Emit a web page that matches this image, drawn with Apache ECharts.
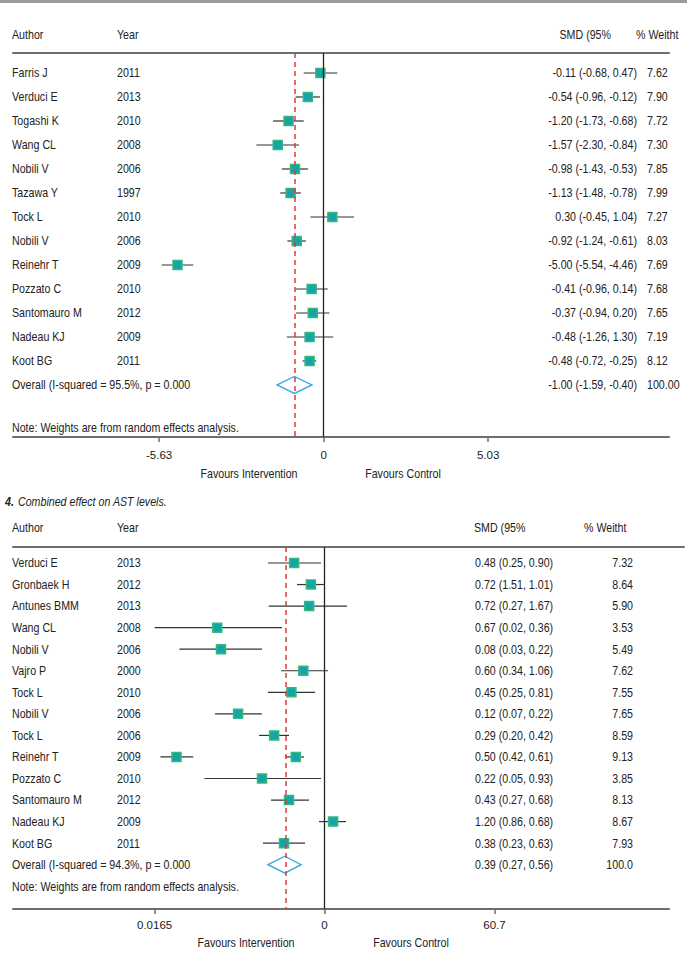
<!DOCTYPE html>
<html>
<head>
<meta charset="utf-8">
<title>forest plots</title>
<script src="https://cdn.jsdelivr.net/npm/echarts@6/dist/echarts.min.js"></script>
<style>
  html, body { margin: 0; padding: 0; background: #fff; }
  #main { width: 687px; height: 953px; }
</style>
</head>
<body>
<div id="main"></div>
<script>
// ---- plot 1 : SMD, linear scale ----
var authors1 = ['Farris J', 'Verduci E', 'Togashi K', 'Wang CL', 'Nobili V', 'Tazawa Y', 'Tock L',
  'Nobili V', 'Reinehr T', 'Pozzato C', 'Santomauro M', 'Nadeau KJ', 'Koot BG'];
var years1 = ['2011', '2013', '2010', '2008', '2006', '1997', '2010', '2006', '2009', '2010', '2012', '2009', '2011'];
var est1 = [-0.11, -0.54, -1.20, -1.57, -0.98, -1.13, 0.30, -0.92, -5.00, -0.41, -0.37, -0.48, -0.48];
var lo1 = [-0.68, -0.96, -1.73, -2.30, -1.43, -1.48, -0.45, -1.24, -5.54, -0.96, -0.94, -1.26, -0.72];
var hi1 = [0.47, -0.12, -0.68, -0.84, -0.53, -0.78, 1.04, -0.61, -4.46, 0.14, 0.20, 0.33, -0.25];
var ciText1 = ['-0.11 (-0.68, 0.47)', '-0.54 (-0.96, -0.12)', '-1.20 (-1.73, -0.68)', '-1.57 (-2.30, -0.84)',
  '-0.98 (-1.43, -0.53)', '-1.13 (-1.48, -0.78)', '0.30 (-0.45, 1.04)', '-0.92 (-1.24, -0.61)',
  '-5.00 (-5.54, -4.46)', '-0.41 (-0.96, 0.14)', '-0.37 (-0.94, 0.20)', '-0.48 (-1.26, 1.30)', '-0.48 (-0.72, -0.25)'];
var weights1 = ['7.62', '7.90', '7.72', '7.30', '7.85', '7.99', '7.27', '8.03', '7.69', '7.68', '7.65', '7.19', '8.12'];
var overall1 = [-1.00, -1.59, -0.40];
var overallText1 = ['Overall (I-squared = 95.5%, p = 0.000', '-1.00 (-1.59, -0.40)', '100.00'];
var ticks1 = [-5.63, 0, 5.63];
var tickLabels1 = ['-5.63', '0', '5.03'];

// ---- plot 2 : ratio, log scale ----
var authors2 = ['Verduci E', 'Gronbaek H', 'Antunes BMM', 'Wang CL', 'Nobili V', 'Vajro P', 'Tock L',
  'Nobili V', 'Tock L', 'Reinehr T', 'Pozzato C', 'Santomauro M', 'Nadeau KJ', 'Koot BG'];
var years2 = ['2013', '2012', '2013', '2008', '2006', '2000', '2010', '2006', '2006', '2009', '2010', '2012', '2009', '2011'];
var est2 = [0.48, 0.72, 0.69, 0.075, 0.082, 0.60, 0.45, 0.124, 0.296, 0.50, 0.221, 0.424, 1.23, 0.376];
var lo2 = [0.255, 0.515, 0.26, 0.0165, 0.030, 0.35, 0.255, 0.071, 0.206, 0.385, 0.055, 0.275, 0.875, 0.226];
var hi2 = [0.918, 0.984, 1.72, 0.358, 0.221, 1.09, 0.795, 0.22, 0.424, 0.61, 0.92, 0.688, 1.68, 0.625];
var ciText2 = ['0.48 (0.25, 0.90)', '0.72 (1.51, 1.01)', '0.72 (0.27, 1.67)', '0.67 (0.02, 0.36)',
  '0.08 (0.03, 0.22)', '0.60 (0.34, 1.06)', '0.45 (0.25, 0.81)', '0.12 (0.07, 0.22)', '0.29 (0.20, 0.42)',
  '0.50 (0.42, 0.61)', '0.22 (0.05, 0.93)', '0.43 (0.27, 0.68)', '1.20 (0.86, 0.68)', '0.38 (0.23, 0.63)'];
var weights2 = ['7.32', '8.64', '5.90', '3.53', '5.49', '7.62', '7.55', '7.65', '8.59', '9.13', '3.85', '8.13', '8.67', '7.93'];
// second box drawn on the Reinehr T row
var extraRow2 = 9;
var extra2 = [0.028, 0.019, 0.042];
var overall2 = [0.385, 0.255, 0.567];
var overallText2 = ['Overall (I-squared = 94.3%, p = 0.000', '0.39 (0.27, 0.56)', '100.0'];
var ticks2 = [0.0165, 1, 60.7];
var tickLabels2 = ['0.0165', '0', '60.7'];

// no narrow face installed: regular face squeezed horizontally
var FAMILY = '"Liberation Sans", Arial, sans-serif';
var FONT = '13px ' + FAMILY;
var SQUEEZE = 0.82;
var TXT = '#222';
var BOX_FILL = '#16a3aa';
var BOX_EDGE = '#35b97a';

var chart = echarts.init(document.getElementById('main'), null, { renderer: 'svg' });

function txt(x, y, s, align, font) {
  return {
    type: 'text', x: x, y: y, scaleX: SQUEEZE, silent: true,
    style: { text: s, fill: TXT, font: font || FONT, align: align || 'left', verticalAlign: 'middle',
      textAlign: align || 'left', textVerticalAlign: 'middle' }
  };
}

function pickLabel(ticks, labels) {
  return function (v) {
    for (var i = 0; i < ticks.length; i++) {
      if (Math.abs(ticks[i] - v) < 1e-6) return labels[i];
    }
    return '';
  };
}

// cols: [year x, ci x, ci align, weight x, weight align]
function studyRender(authors, years, ciText, weights, cols) {
  return function (params, api) {
    var row = api.value(3);
    var k = api.value(4);
    var a = api.coord([api.value(1), row]);
    var b = api.coord([api.value(2), row]);
    var c = api.coord([api.value(0), row]);
    var kids = [
      { type: 'line', shape: { x1: a[0], y1: a[1], x2: b[0], y2: b[1] }, style: { stroke: '#333', lineWidth: 1.2 } },
      { type: 'rect', shape: { x: c[0] - 4.5, y: c[1] - 4.5, width: 9, height: 9 },
        style: { fill: BOX_FILL, stroke: BOX_EDGE, lineWidth: 1.5 } }
    ];
    if (k >= 0) {
      kids.push(txt(12, c[1], authors[k]));
      kids.push(txt(cols[0], c[1], years[k]));
      kids.push(txt(cols[1], c[1], ciText[k], cols[2]));
      kids.push(txt(cols[3], c[1], weights[k], cols[4]));
    }
    return { type: 'group', children: kids };
  };
}

function overallRender(texts, cols) {
  return function (params, api) {
    var row = api.value(3);
    var a = api.coord([api.value(1), row]);
    var b = api.coord([api.value(2), row]);
    var c = api.coord([api.value(0), row]);
    return {
      type: 'group', children: [
        { type: 'polygon', shape: { points: [[a[0], c[1]], [c[0], c[1] - 8.5], [b[0], c[1]], [c[0], c[1] + 8.5]] },
          style: { fill: 'none', stroke: '#3aa8e0', lineWidth: 1.4 } },
        txt(12, c[1], texts[0]),
        txt(cols[1], c[1], texts[1], cols[2]),
        txt(cols[3], c[1], texts[2], cols[4])
      ]
    };
  };
}

var data1 = est1.map(function (v, i) { return [v, lo1[i], hi1[i], i, i]; });
var data2 = est2.map(function (v, i) {
  return [Math.log10(v), Math.log10(lo2[i]), Math.log10(hi2[i]), i, i];
});
data2.push([Math.log10(extra2[0]), Math.log10(extra2[1]), Math.log10(extra2[2]), extraRow2, -1]);

var cols1 = [117, 637, 'right', 647, 'left'];
var cols2 = [117, 475, 'left', 633, 'right'];

function bottomAxis(grid, min, max, ticks, labels, margin) {
  return {
    type: 'value', gridIndex: grid, position: 'bottom', min: min, max: max,
    axisLine: { onZero: false, lineStyle: { color: '#6e6e6e', width: 2 } },
    axisTick: { show: true, length: 5, customValues: ticks, lineStyle: { color: '#6e6e6e', width: 1.5 } },
    axisLabel: { customValues: ticks, formatter: pickLabel(ticks, labels), margin: margin,
      color: TXT, fontSize: 11.5, fontFamily: FAMILY },
    splitLine: { show: false }
  };
}
function topAxis(grid, min, max) {
  return {
    type: 'value', gridIndex: grid, position: 'top', min: min, max: max,
    axisLine: { onZero: false, lineStyle: { color: '#6e6e6e', width: 2 } },
    axisTick: { show: false }, axisLabel: { show: false }, splitLine: { show: false }
  };
}

function refLines(xi, yi, zero, pooled) {
  return {
    type: 'line', xAxisIndex: xi, yAxisIndex: yi, data: [], silent: true,
    markLine: {
      symbol: 'none', silent: true, animation: false, label: { show: false },
      data: [
        { xAxis: zero, lineStyle: { color: '#222', width: 1.3, type: 'solid' } },
        { xAxis: pooled, lineStyle: { color: '#e0393e', width: 1.5, type: [5, 4] } }
      ]
    }
  };
}

var option = {
  animation: false,
  grid: [
    { left: 13, width: 656, top: 53, height: 384 },
    { left: 13, width: 656, top: 547, height: 362 },
    // header rule of the second plot runs further right
    { left: 13, width: 671, top: 547, height: 1 }
  ],
  xAxis: [
    bottomAxis(0, -10.63, 11.82, ticks1, tickLabels1, 12),
    topAxis(0, -10.63, 11.82),
    bottomAxis(1, -3.268, 3.614, ticks2.map(Math.log10), tickLabels2, 10),
    topAxis(2, 0, 1)
  ],
  yAxis: [
    { type: 'value', gridIndex: 0, inverse: true, min: -0.833, max: 15.167, show: false },
    { type: 'value', gridIndex: 1, inverse: true, min: -0.742, max: 16.055, show: false },
    { type: 'value', gridIndex: 2, min: 0, max: 1, show: false }
  ],
  graphic: [
    { type: 'rect', shape: { x: 0, y: 0, width: 687, height: 3 }, style: { fill: '#9c9c9c' }, silent: true },
    txt(12, 35, 'Author'), txt(117, 35, 'Year'), txt(611, 35, 'SMD (95%', 'right'), txt(636, 35, '% Weitht'),
    txt(12, 428, 'Note: Weights are from random effects analysis.'),
    txt(249, 474, 'Favours Intervention', 'center'), txt(403, 474, 'Favours Control', 'center'),
    txt(5, 502, '4.', 'left', 'italic bold 13px ' + FAMILY),
    txt(18, 502, 'Combined effect on AST levels.', 'left', 'italic 13px ' + FAMILY),
    txt(12, 528, 'Author'), txt(117, 528, 'Year'), txt(474, 528, 'SMD (95%'), txt(584, 528, '% Weitht'),
    txt(12, 887, 'Note: Weights are from random effects analysis.'),
    txt(246, 943, 'Favours Intervention', 'center'), txt(411, 943, 'Favours Control', 'center')
  ],
  series: [
    refLines(0, 0, 0, overall1[0]),
    refLines(2, 1, 0, Math.log10(overall2[0])),
    {
      type: 'custom', xAxisIndex: 0, yAxisIndex: 0, silent: true,
      encode: { x: [0, 1, 2], y: 3 },
      renderItem: studyRender(authors1, years1, ciText1, weights1, cols1),
      data: data1
    },
    {
      type: 'custom', xAxisIndex: 0, yAxisIndex: 0, silent: true,
      encode: { x: [0, 1, 2], y: 3 },
      renderItem: overallRender(overallText1, cols1),
      data: [[overall1[0], overall1[1], overall1[2], authors1.length]]
    },
    {
      type: 'custom', xAxisIndex: 2, yAxisIndex: 1, silent: true,
      encode: { x: [0, 1, 2], y: 3 },
      renderItem: studyRender(authors2, years2, ciText2, weights2, cols2),
      data: data2
    },
    {
      type: 'custom', xAxisIndex: 2, yAxisIndex: 1, silent: true,
      encode: { x: [0, 1, 2], y: 3 },
      renderItem: overallRender(overallText2, cols2),
      data: [[Math.log10(overall2[0]), Math.log10(overall2[1]), Math.log10(overall2[2]), authors2.length]]
    }
  ]
};

chart.setOption(option);
</script>
</body>
</html>
